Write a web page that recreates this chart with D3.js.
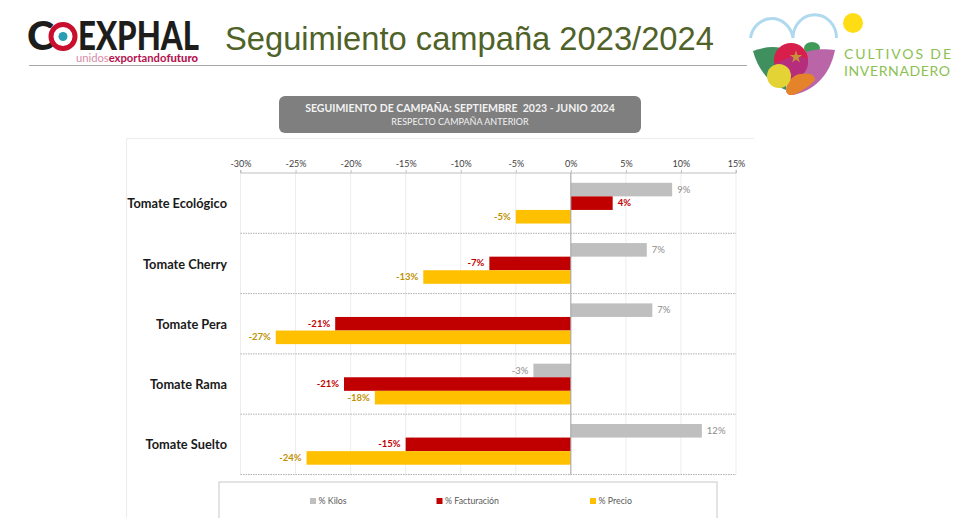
<!DOCTYPE html>
<head>
    <meta charset="utf-8">
    <title>Seguimiento campaña 2023/2024</title>
    <style>
        body { margin: 0; background: #fff; }
        svg { display: block; }
        text { font-family: Lato, "Open Sans", sans-serif; }
    </style>
</head>
<body>

<svg width="980" height="518"></svg>

<script src="https://d3js.org/d3.v7.min.js"></script>

<script>

    var categories = ["Tomate Ecológico", "Tomate Cherry", "Tomate Pera", "Tomate Rama", "Tomate Suelto"];
    var seriesNames = ["% Kilos", "% Facturación", "% Precio"];
    var kilos = [9.2, 6.9, 7.4, -3.4, 11.9];
    var facturacion = [3.8, -7.4, -21.4, -20.6, -15];
    var precio = [-5, -13.4, -26.8, -17.8, -24];
    var tickValues = [-30, -25, -20, -15, -10, -5, 0, 5, 10, 15];

    var barColors = ["#bfbfbf", "#c00000", "#ffc000"];
    var labelColors = ["#8c8c8c", "#c00000", "#bf9000"];

    var svg = d3.select("svg");

    var x = d3.scaleLinear().domain([-30, 15]).range([240.5, 736]);
    var y = d3.scaleBand().domain(categories).range([173, 474.5]);
    var inner = d3.scaleBand().domain(seriesNames).range([0, y.bandwidth()]).paddingOuter(0.72).paddingInner(0);

    var rows = [];
    [kilos, facturacion, precio].forEach(function(values, s) {
        values.forEach(function(v, c) {
            rows.push({ category: categories[c], series: seriesNames[s], s: s, value: v });
        });
    });

    // page header
    svg.append("line").attr("x1", 29).attr("x2", 747).attr("y1", 65.5).attr("y2", 65.5)
        .attr("stroke", "#a6a6a6");

    svg.append("text")
        .attr("x", 225).attr("y", 50)
        .attr("font-size", 32.7)
        .style("font-family", "'Liberation Sans', Arial, sans-serif")
        .attr("fill", "#4f6228")
        .text("Seguimiento campaña 2023/2024");

    // coexphal logo
    var logo = svg.append("g");
    logo.append("text").attr("x", 27).attr("y", 50).attr("font-size", 39).attr("font-weight", 900)
        .attr("textLength", 27).attr("lengthAdjust", "spacingAndGlyphs")
        .attr("fill", "#1d1d1b").text("C");
    logo.append("text").attr("x", 78).attr("y", 50).attr("font-size", 39).attr("font-weight", 900)
        .attr("textLength", 121).attr("lengthAdjust", "spacingAndGlyphs")
        .attr("fill", "#1d1d1b").text("EXPHAL");
    logo.append("circle").attr("cx", 63).attr("cy", 36.5).attr("r", 12).attr("fill", "#fff")
        .attr("stroke", "#c8102e").attr("stroke-width", 5);
    logo.append("circle").attr("cx", 63).attr("cy", 36.5).attr("r", 4.5).attr("fill", "#2a9db5");
    var tagline = logo.append("text").attr("x", 76).attr("y", 62).attr("font-size", 11)
        .attr("textLength", 122).attr("lengthAdjust", "spacingAndGlyphs");
    tagline.append("tspan").attr("fill", "#d98aa6").text("unidos");
    tagline.append("tspan").attr("fill", "#b5124f").attr("font-weight", 700).text("exportando");
    tagline.append("tspan").attr("fill", "#b5124f").attr("font-weight", 900).text("futuro");

    // cultivos de invernadero logo
    var heart = svg.append("g");
    heart.append("path").attr("d", "M750.5,38 A21.5,23 0 0 1 793,38 A21.5,23 0 0 1 836.5,38")
        .attr("fill", "none").attr("stroke", "#aed9ee").attr("stroke-width", 3);
    heart.append("circle").attr("cx", 853).attr("cy", 23).attr("r", 10).attr("fill", "#ffdd15");
    heart.append("path").attr("d", "M753,51 C766,46 778,46 788,50 L786,90 C770,84 758,70 753,51 Z").attr("fill", "#3f8f5f");
    heart.append("ellipse").attr("cx", 812).attr("cy", 48).attr("rx", 8).attr("ry", 6).attr("fill", "#3f9a58");
    heart.append("path").attr("d", "M835,50 C820,48 805,50 795,58 L786,92 L793,95 C815,90 830,75 835,50 Z").attr("fill", "#b965a8");
    heart.append("circle").attr("cx", 791).attr("cy", 60).attr("r", 17).attr("fill", "#d81e4a");
    heart.append("path").attr("d", "M774,64 A17,17 0 0 0 808,60 C800,52 786,58 774,64 Z").attr("fill", "#b52d7c");
    heart.append("path").attr("d", "M789,95 C782,92 788,76 800,74 C812,72 815,76 815,80 C808,88 798,93 793,95 Z").attr("fill", "#e5832a");
    heart.append("circle").attr("cx", 779).attr("cy", 76).attr("r", 12).attr("fill", "#e3d334");
    heart.append("path").attr("transform", "translate(796,57)")
        .attr("d", d3.symbol(d3.symbolStar, 50)()).attr("fill", "#c9913a");
    heart.append("text").attr("x", 844).attr("y", 58.5).attr("font-size", 14)
        .attr("textLength", 107).attr("fill", "#8cc152").text("CULTIVOS DE");
    heart.append("text").attr("x", 844).attr("y", 75.5).attr("font-size", 14)
        .attr("textLength", 106).attr("fill", "#8cc152").text("INVERNADERO");

    // chart frame
    svg.append("path").attr("d", "M126.5,518 V138.5 H754")
        .attr("fill", "none").attr("stroke", "#ececec");

    // title box
    svg.append("rect").attr("x", 279).attr("y", 96).attr("width", 362).attr("height", 37).attr("rx", 6)
        .attr("fill", "#7f7f7f");
    svg.append("text").attr("x", 460).attr("y", 112).attr("text-anchor", "middle")
        .attr("font-size", 10.5).attr("font-weight", 700).attr("fill", "#f2f2f2").style("white-space", "pre")
        .text("SEGUIMIENTO DE CAMPAÑA: SEPTIEMBRE  2023 - JUNIO 2024");
    svg.append("text").attr("x", 460).attr("y", 125).attr("text-anchor", "middle")
        .attr("font-size", 9).attr("fill", "#f2f2f2")
        .text("RESPECTO CAMPAÑA ANTERIOR");

    // vertical grid
    svg.append("g").selectAll("line").data(tickValues).enter().append("line")
        .attr("x1", function(d) { return x(d); })
        .attr("x2", function(d) { return x(d); })
        .attr("y1", 173).attr("y2", 474.5)
        .attr("stroke", "#ededed");

    // dotted row separators
    svg.append("g").selectAll("line").data(categories).enter().append("line")
        .attr("x1", x.range()[0]).attr("x2", x.range()[1])
        .attr("y1", function(d) { return y(d) + y.bandwidth(); })
        .attr("y2", function(d) { return y(d) + y.bandwidth(); })
        .attr("stroke", "#b0b0b0").attr("stroke-dasharray", "1.5 1");

    // top axis
    var axis = svg.append("g")
        .attr("transform", "translate(0,173)")
        .call(d3.axisTop(x).tickValues(tickValues).tickSize(3).tickFormat(function(d) { return d + "%"; }));
    axis.selectAll("path, line").attr("stroke", "#bfbfbf");
    axis.selectAll("text").attr("font-size", 9).attr("fill", "#404040").style("font-family", "Lato, sans-serif");
    axis.select("path").attr("d", "M" + x.range()[0] + ",-3V0H" + x.range()[1] + "V-3");

    // category labels
    svg.append("g").selectAll("text").data(categories).enter().append("text")
        .attr("x", 227)
        .attr("y", function(d) { return y(d) + y.bandwidth() / 2 + 1; })
        .attr("dy", "0.32em")
        .attr("text-anchor", "end")
        .attr("font-size", 12.8)
        .attr("font-weight", 700)
        .attr("fill", "#1a1a1a")
        .text(function(d) { return d; });

    // bars
    svg.append("g").selectAll("rect").data(rows).enter().append("rect")
        .attr("x", function(d) { return Math.min(x(0), x(d.value)); })
        .attr("width", function(d) { return Math.abs(x(d.value) - x(0)); })
        .attr("y", function(d) { return y(d.category) + inner(d.series); })
        .attr("height", inner.bandwidth())
        .attr("fill", function(d) { return barColors[d.s]; });

    // zero line
    svg.append("line").attr("x1", x(0)).attr("x2", x(0)).attr("y1", 173).attr("y2", 474.5)
        .attr("stroke", "#a6a6a6");

    // value labels
    svg.append("g").selectAll("text").data(rows).enter().append("text")
        .attr("x", function(d) { return x(d.value) + (d.value < 0 ? -5 : 5); })
        .attr("y", function(d) { return y(d.category) + inner(d.series) + inner.bandwidth() / 2; })
        .attr("dy", "0.32em")
        .attr("text-anchor", function(d) { return d.value < 0 ? "end" : "start"; })
        .attr("font-size", 9.5)
        .attr("font-weight", function(d) { return d.s === 0 ? 400 : 700; })
        .attr("fill", function(d) { return labelColors[d.s]; })
        .text(function(d) { return Math.round(d.value) + "%"; });

    // legend, box runs off the bottom of the slide
    svg.append("rect").attr("x", 219).attr("y", 482).attr("width", 498).attr("height", 60)
        .attr("fill", "#fff").attr("stroke", "#c8c8c8");

    var legendX = d3.scaleOrdinal().domain(seriesNames).range([310, 436.5, 590]);
    var legend = svg.append("g").selectAll("g").data(seriesNames).enter().append("g")
        .attr("transform", function(d) { return "translate(" + legendX(d) + ",498)"; });
    legend.append("rect").attr("width", 6).attr("height", 6)
        .attr("fill", function(d, i) { return barColors[i]; });
    legend.append("text").attr("x", 8.5).attr("y", 3).attr("dy", "0.32em")
        .attr("font-size", 8.8).attr("fill", "#595959")
        .text(function(d) { return d; });

</script>
</body>
